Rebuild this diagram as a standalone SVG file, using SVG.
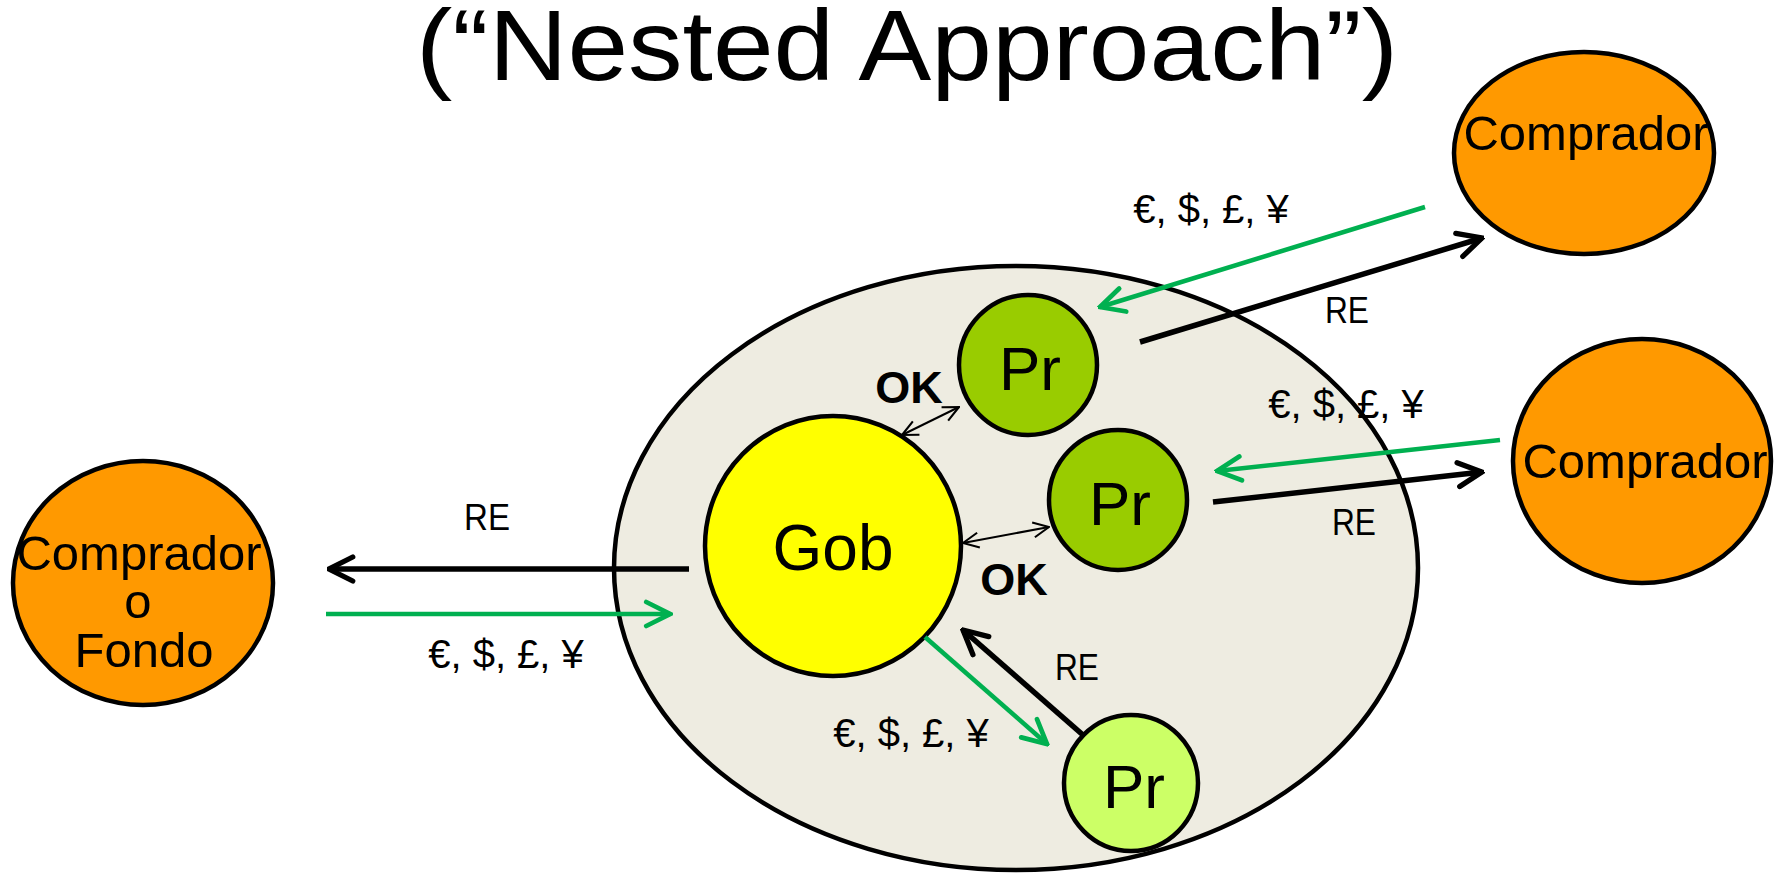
<svg xmlns="http://www.w3.org/2000/svg" width="1781" height="873" viewBox="0 0 1781 873">
<style>
text{font-family:"Liberation Sans",Arial,sans-serif;fill:#000;text-anchor:middle}
.node{stroke:#000;stroke-width:4.5}
.buyer{fill:#FF9900}
.pr{fill:#99CC00}
.prl{fill:#CCFF66}
.gob{fill:#FFFF00}
.cluster{fill:#EEECE1;stroke:#000;stroke-width:4.5}
.lbl{font-size:40px}
.re{font-size:37px}
.ok{font-size:45px;font-weight:bold}
.nt{font-size:49px}
.blk{stroke:#000;stroke-width:5.5;fill:none;marker-end:url(#hb)}
.grn{stroke:#00B050;stroke-width:4.5;fill:none;marker-end:url(#hg)}
.thin{stroke:#000;stroke-width:2;fill:none;marker-end:url(#ht);marker-start:url(#ht)}
</style>
<defs>
<marker id="hb" viewBox="0 0 12 12" refX="11" refY="6" markerWidth="30" markerHeight="30" markerUnits="userSpaceOnUse" orient="auto-start-reverse">
<path d="M1.5,1.2 L11,6 L1.5,10.8" fill="none" stroke="#000" stroke-width="2.1" stroke-linecap="round" stroke-linejoin="miter"/>
</marker>
<marker id="hg" viewBox="0 0 12 12" refX="11" refY="6" markerWidth="30" markerHeight="30" markerUnits="userSpaceOnUse" orient="auto-start-reverse">
<path d="M1.5,1.2 L11,6 L1.5,10.8" fill="none" stroke="#00B050" stroke-width="1.9" stroke-linecap="round"/>
</marker>
<marker id="ht" viewBox="0 0 12 12" refX="11.5" refY="6" markerWidth="18" markerHeight="18" markerUnits="userSpaceOnUse" orient="auto-start-reverse">
<path d="M1,1 L11.5,6 L1,11" fill="none" stroke="#000" stroke-width="1.4"/>
</marker>
</defs>

<text x="907" y="80" font-size="100" textLength="982" lengthAdjust="spacingAndGlyphs">(“Nested Approach”)</text>

<g id="cluster">
<ellipse class="cluster" cx="1016" cy="568" rx="402" ry="302"/>
</g>

<g id="gob">
<ellipse class="node gob" cx="833" cy="546" rx="128" ry="130"/>
<text x="833" y="570" font-size="64">Gob</text>
</g>
<g id="pr1">
<ellipse class="node pr" cx="1028" cy="365" rx="69" ry="70"/>
<text x="1030" y="390" font-size="62">Pr</text>
</g>
<g id="pr2">
<ellipse class="node pr" cx="1118" cy="500" rx="69" ry="70"/>
<text x="1120" y="525" font-size="62">Pr</text>
</g>
<g id="pr3">
<ellipse class="node prl" cx="1131" cy="783" rx="67" ry="68"/>
<text x="1134" y="808" font-size="62">Pr</text>
</g>
<g id="comprador1">
<ellipse class="node buyer" cx="1584" cy="153" rx="130" ry="101"/>
<text class="nt" x="1586" y="150">Comprador</text>
</g>
<g id="comprador2">
<ellipse class="node buyer" cx="1642" cy="461" rx="129" ry="122"/>
<text class="nt" x="1645" y="478">Comprador</text>
</g>
<g id="comprador-fondo">
<ellipse class="node buyer" cx="143" cy="583" rx="130" ry="122"/>
<text class="nt" x="139" y="570">Comprador</text>
<text class="nt" x="138" y="618">o</text>
<text class="nt" x="144" y="667">Fondo</text>
</g>

<g id="connectors">
<line class="blk" x1="689" y1="569" x2="329" y2="569"/>
<line class="grn" x1="326" y1="614" x2="670" y2="614"/>
<line class="grn" x1="1425" y1="207" x2="1100" y2="307"/>
<line class="blk" x1="1140" y1="342" x2="1482" y2="238"/>
<line class="grn" x1="1500" y1="440" x2="1217" y2="471"/>
<line class="blk" x1="1213" y1="502" x2="1482" y2="472"/>
<line class="grn" x1="925" y1="637" x2="1047" y2="744"/>
<line class="blk" x1="1083" y1="735" x2="963" y2="630"/>
<line class="thin" x1="902" y1="435" x2="959" y2="407"/>
<line class="thin" x1="963" y1="543" x2="1049" y2="527"/>
</g>

<g id="labels">
<text class="lbl" x="1211" y="223">€, $, £, ¥</text>
<text class="re" x="1347" y="323" textLength="44" lengthAdjust="spacingAndGlyphs">RE</text>
<text class="lbl" x="1346" y="418">€, $, £, ¥</text>
<text class="re" x="1354" y="535" textLength="44" lengthAdjust="spacingAndGlyphs">RE</text>
<text class="re" x="487" y="530" textLength="46" lengthAdjust="spacingAndGlyphs">RE</text>
<text class="lbl" x="506" y="668">€, $, £, ¥</text>
<text class="re" x="1077" y="680" textLength="44" lengthAdjust="spacingAndGlyphs">RE</text>
<text class="lbl" x="911" y="747">€, $, £, ¥</text>
<text class="ok" x="909" y="403">OK</text>
<text class="ok" x="1014" y="595">OK</text>
</g>
</svg>
